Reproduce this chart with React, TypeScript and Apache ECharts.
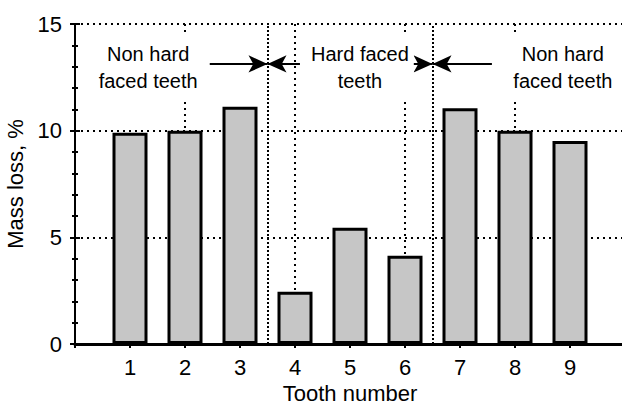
import React, { useEffect, useRef } from "react";
import * as echarts from "echarts";

const teeth = [1, 2, 3, 4, 5, 6, 7, 8, 9];
const massLoss = [9.9, 10.0, 11.12, 2.45, 5.45, 4.14, 11.05, 10.0, 9.52];

const zoneLabels = ["Non hard\nfaced teeth", "Hard faced\nteeth", "Non hard\nfaced teeth"];
const zoneLabelX = [1.33, 5.18, 8.87];
const zoneLabelY = 12.95;
const zoneBoundaries = [3.5, 6.5];
const arrowY = 13.13;
const arrowStarts = [2.45, 4.09, 6.0, 7.58];
const arrowEnds = [3.5, 3.5, 6.5, 6.5];

const FONT = "'Liberation Sans', Arial, Helvetica, sans-serif";

export default function App() {
  const ref = useRef<HTMLDivElement>(null);
  useEffect(() => {
    if (!ref.current) return;
    const chart = echarts.init(ref.current, undefined, { renderer: "svg" });
    const dotted = { color: "#000", width: 2, type: [2, 4] as any };
    chart.setOption({
      animation: false,
      backgroundColor: "#fff",
      textStyle: { fontFamily: FONT },
      grid: { left: 75, right: 5, top: 24, bottom: 62, outerBoundsMode: "none", containLabel: false },
      xAxis: [
        {
          type: "value",
          min: 0,
          max: 10,
          interval: 1,
          position: "bottom",
          name: "Tooth number",
          nameLocation: "middle",
          nameGap: 36,
          nameTextStyle: { fontSize: 22, color: "#000", fontFamily: FONT },
          axisLine: { show: true, lineStyle: { color: "#000", width: 3 } },
          axisTick: { show: false },
          axisLabel: {
            fontSize: 22,
            color: "#000",
            margin: 12,
            fontFamily: FONT,
            formatter: (v: number) => (teeth.indexOf(v) >= 0 ? String(v) : ""),
          },
          splitLine: { show: false },
        },
        {
          type: "value",
          min: 0,
          max: 10,
          interval: 1,
          position: "top",
          axisLine: { show: true, lineStyle: { color: "#000", width: 2 } },
          axisTick: { show: true, inside: true, length: 4, lineStyle: { color: "#000", width: 2 } },
          axisLabel: { show: false },
          splitLine: { show: false },
        },
        {
          type: "value",
          min: 0,
          max: 10,
          interval: 2,
          position: "top",
          z: 0,
          axisLine: { show: false },
          axisTick: { show: false },
          axisLabel: { show: false },
          splitLine: { show: true, lineStyle: dotted },
        },
      ],
      yAxis: [
        {
          type: "value",
          min: 0,
          max: 15,
          interval: 5,
          position: "left",
          name: "Mass loss, %",
          nameLocation: "middle",
          nameGap: 33,
          nameTextStyle: { fontSize: 22, color: "#000", fontFamily: FONT },
          axisLine: { show: true, lineStyle: { color: "#000", width: 2 } },
          axisTick: { show: true, inside: true, length: 5, lineStyle: { color: "#000", width: 2 } },
          minorTick: { show: true, splitNumber: 5, length: 3, lineStyle: { color: "#000", width: 2 } },
          axisLabel: { fontSize: 22, color: "#000", margin: 13, fontFamily: FONT },
          splitLine: { show: true, lineStyle: dotted },
        },
        {
          type: "value",
          min: 0,
          max: 15,
          interval: 5,
          position: "right",
          axisLine: { show: true, lineStyle: { color: "#000", width: 2 } },
          axisTick: { show: true, inside: true, length: 5, lineStyle: { color: "#000", width: 2 } },
          minorTick: { show: true, splitNumber: 5, length: 3, lineStyle: { color: "#000", width: 2 } },
          axisLabel: { show: false },
          splitLine: { show: false },
        },
      ],
      series: [
        {
          type: "bar",
          xAxisIndex: 0,
          yAxisIndex: 0,
          z: 2,
          barWidth: 35,
          data: teeth.map((t, i) => [t, massLoss[i]]),
          itemStyle: { color: "#c6c6c6", borderColor: "#000", borderWidth: 3 },
          silent: true,
        },
        {
          type: "line",
          xAxisIndex: 0,
          yAxisIndex: 0,
          z: 11,
          data: [],
          silent: true,
          markLine: {
            silent: true,
            animation: false,
            symbol: ["none", "none"],
            label: { show: false },
            lineStyle: { color: "#000", width: 2, type: [2, 2] as any },
            emphasis: { disabled: true },
            data: zoneBoundaries.map((b) => ({ xAxis: b })),
          },
        },
        {
          type: "line",
          xAxisIndex: 0,
          yAxisIndex: 0,
          z: 12,
          data: [],
          silent: true,
          markLine: {
            silent: true,
            animation: false,
            symbol: ["none", "arrow"],
            symbolSize: [13, 19],
            label: { show: false },
            lineStyle: { color: "#000", width: 2, type: "solid" },
            itemStyle: { color: "#000" },
            emphasis: { disabled: true },
            data: arrowStarts.map((s, i) => [
              { coord: [s, arrowY] },
              { coord: [arrowEnds[i], arrowY] },
            ]),
          },
        },
      ],
    });
    const graphics = zoneLabels.map((s, i) => {
      const p = chart.convertToPixel({ xAxisIndex: 0, yAxisIndex: 0 }, [zoneLabelX[i], zoneLabelY]) as number[];
      return {
        type: "text",
        x: p[0],
        y: p[1],
        z: 5,
        silent: true,
        style: {
          text: s,
          fontSize: 20,
          fontFamily: FONT,
          lineHeight: 27,
          fill: "#000",
          align: "center",
          verticalAlign: "middle",
          backgroundColor: "#ffffff",
          padding: [5, 5],
        },
      };
    });
    chart.setOption({ graphic: graphics });
    return () => chart.dispose();
  }, []);
  return (
    <div style={{ position: "fixed", left: 0, top: 0, width: 622, height: 406, overflow: "hidden", background: "#fff" }}>
      <div ref={ref} style={{ width: 630, height: 406 }} />
    </div>
  );
}
